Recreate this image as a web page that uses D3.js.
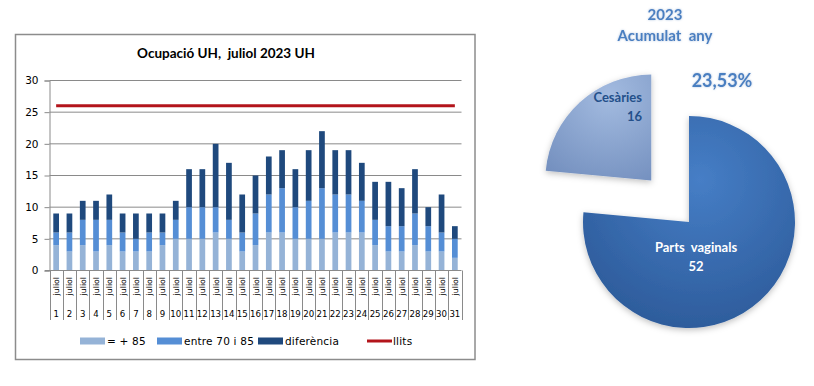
<!DOCTYPE html>
<html>
<head>
<meta charset="utf-8">
<script src="https://cdn.jsdelivr.net/npm/d3@7"></script>
<style>
  body { margin: 0; background: #fff; }
  svg { display: block; }
</style>
</head>
<body>
<div id="chart"></div>
<script>
// data
var days = ["1","2","3","4","5","6","7","8","9","10","11","12","13","14","15","16",
            "17","18","19","20","21","22","23","24","25","26","27","28","29","30","31"];
var over85  = [4,3,4,3,4,3,3,3,4,5,5,5,6,5,3,4,6,6,5,5,5,6,6,6,4,3,3,4,3,3,2];
var between = [2,3,4,5,4,3,2,3,2,3,5,5,4,3,3,5,6,7,5,6,8,6,6,5,4,4,4,5,4,3,3];
var diffs   = [3,3,3,3,4,3,4,3,3,3,6,6,10,9,6,6,6,6,6,8,9,7,7,6,6,7,6,7,3,6,2];
var llits   = [26,26,26,26,26,26,26,26,26,26,26,26,26,26,26,26,26,26,26,26,26,26,26,26,26,26,26,26,26,26,26];
var yTicks  = [0,5,10,15,20,25,30];
var seriesNames = ["= + 85", "entre 70 i 85", "diferència", "llits"];

var pieLabels = ["Parts\u00a0 vaginals", "Cesàries"];
var pieValues = [52, 16];

var colors = ["#95b3d7", "#558ed5", "#1f497d"];
var red = "#b3141b";

var svg = d3.select("#chart").append("svg")
    .attr("width", 814)
    .attr("height", 386);

// frame of the bar chart
svg.append("rect")
    .attr("x", 15.5).attr("y", 34.5)
    .attr("width", 459.5).attr("height", 325)
    .attr("fill", "#fff")
    .attr("stroke", "#8c8c8c")
    .attr("stroke-width", 1.5);

svg.append("text")
    .attr("x", 226).attr("y", 58)
    .attr("text-anchor", "middle")
    .style("font-family", "Lato, sans-serif")
    .style("font-weight", "bold")
    .style("font-size", "13.5px")
    .text("Ocupació UH,\u00a0 juliol 2023 UH");

// scales
var x = d3.scaleBand().domain(days).range([49.5, 461.5])
    .paddingInner(0.57).paddingOuter(0.285);
var y = d3.scaleLinear().domain([0, 30]).range([270.5, 80.5]);

// gridlines
svg.append("g")
    .selectAll("line")
    .data(yTicks.slice(1))
  .enter().append("line")
    .attr("x1", 49.5).attr("x2", 461.5)
    .attr("y1", function(d) { return y(d); })
    .attr("y2", function(d) { return y(d); })
    .attr("stroke", "#8a8a8a");

// y axis
var yAxis = svg.append("g")
    .attr("transform", "translate(49.5,0)")
    .call(d3.axisLeft(y).tickValues(yTicks).tickSize(5).tickPadding(6));
yAxis.select(".domain").attr("stroke", "#8a8a8a");
yAxis.selectAll(".tick line").attr("stroke", "#8a8a8a");
yAxis.selectAll("text")
    .attr("fill", "#000")
    .style("font-family", "'DejaVu Sans', sans-serif")
    .style("font-size", "10.5px");

// stacked bars
var rows = days.map(function(d, i) {
  return {day: d, a: over85[i], b: between[i], c: diffs[i]};
});
var stack = d3.stack().keys(["a", "b", "c"]);

svg.append("g")
    .selectAll("g")
    .data(stack(rows))
  .enter().append("g")
    .attr("fill", function(d, i) { return colors[i]; })
  .selectAll("rect")
    .data(function(d) { return d; })
  .enter().append("rect")
    .attr("x", function(d) { return x(d.data.day); })
    .attr("y", function(d) { return y(d[1]); })
    .attr("height", function(d) { return y(d[0]) - y(d[1]); })
    .attr("width", x.bandwidth());

// llits line
var line = d3.line()
    .x(function(d, i) { return x(days[i]) + x.bandwidth() / 2; })
    .y(function(d) { return y(d); });

svg.append("path")
    .datum(llits)
    .attr("d", line)
    .attr("fill", "none")
    .attr("stroke", red)
    .attr("stroke-width", 3);

// x axis with two label levels
var step = x.step();
var x0 = x.range()[0];
svg.append("line")
    .attr("x1", 45).attr("x2", 461.5)
    .attr("y1", 270.5).attr("y2", 270.5)
    .attr("stroke", "#8a8a8a");

svg.append("g")
    .selectAll("line")
    .data(d3.range(days.length + 1))
  .enter().append("line")
    .attr("x1", function(i) { return Math.round(x0 + i * step) + 0.5; })
    .attr("x2", function(i) { return Math.round(x0 + i * step) + 0.5; })
    .attr("y1", 270.5).attr("y2", 320)
    .attr("stroke", "#8a8a8a");

var lab = svg.append("g");
lab.selectAll(".month")
    .data(days)
  .enter().append("text")
    .attr("transform", function(d) {
      return "translate(" + (x(d) + x.bandwidth() / 2 + 3) + ",277) rotate(-90)";
    })
    .attr("text-anchor", "end")
    .style("font-family", "'DejaVu Sans', sans-serif")
    .style("font-size", "7.8px")
    .text("juliol");

lab.selectAll(".day")
    .data(days)
  .enter().append("text")
    .attr("x", function(d) { return x(d) + x.bandwidth() / 2; })
    .attr("y", 316.5)
    .attr("text-anchor", "middle")
    .style("font-family", "'DejaVu Sans', sans-serif")
    .style("font-size", "8.6px")
    .text(function(d) { return d; });

// legend
var legX = [80, 157, 258, 367];
var leg = svg.append("g").selectAll("g")
    .data(seriesNames)
  .enter().append("g")
    .attr("transform", function(d, i) { return "translate(" + legX[i] + ",341)"; });

leg.filter(function(d, i) { return i < 3; })
  .append("rect")
    .attr("x", 0).attr("y", -3.5)
    .attr("width", 25).attr("height", 7)
    .attr("fill", function(d, i) { return colors[i]; });

leg.filter(function(d, i) { return i == 3; })
  .append("line")
    .attr("x1", 0).attr("x2", 25)
    .attr("stroke", red)
    .attr("stroke-width", 3);

leg.append("text")
    .attr("x", function(d, i) { return i == 3 ? 26 : 27; })
    .attr("y", 4)
    .style("font-family", "'DejaVu Sans', sans-serif")
    .style("font-size", "10.5px")
    .style("letter-spacing", "0.2px")
    .text(function(d) { return d; });

// ---- pie ----
var defs = svg.append("defs");
var g1 = defs.append("radialGradient").attr("id", "gBig")
    .attr("cx", "55%").attr("cy", "30%").attr("r", "75%");
g1.append("stop").attr("offset", "0%").attr("stop-color", "#467ec6");
g1.append("stop").attr("offset", "100%").attr("stop-color", "#2c5a99");
var g2 = defs.append("radialGradient").attr("id", "gSmall")
    .attr("cx", "60%").attr("cy", "20%").attr("r", "90%");
g2.append("stop").attr("offset", "0%").attr("stop-color", "#a3bbe0");
g2.append("stop").attr("offset", "100%").attr("stop-color", "#7490bf");
var sh = defs.append("filter").attr("id", "shadow")
    .attr("x", "-20%").attr("y", "-20%").attr("width", "140%").attr("height", "140%");
sh.append("feDropShadow").attr("dx", 0).attr("dy", 2)
    .attr("stdDeviation", 3).attr("flood-color", "#000").attr("flood-opacity", 0.25);
var glow = defs.append("filter").attr("id", "glow")
    .attr("x", "-10%").attr("y", "-30%").attr("width", "120%").attr("height", "160%");
glow.append("feDropShadow").attr("dx", 0).attr("dy", 0)
    .attr("stdDeviation", 1.2).attr("flood-color", "#9fb8d8").attr("flood-opacity", 0.8);

var pie = d3.pie().sort(null).startAngle(0).endAngle(2 * Math.PI);
var arcs = pie(pieValues);
var radius = 106;
var arc = d3.arc().innerRadius(0).outerRadius(radius);
var cx = 689, cy = 222;
var explode = [0, 56];

var pg = svg.append("g").attr("transform", "translate(" + cx + "," + cy + ")");
pg.selectAll("path")
    .data(arcs)
  .enter().append("path")
    .attr("transform", function(d, i) {
      var a = (d.startAngle + d.endAngle) / 2;
      return "translate(" + (Math.sin(a) * explode[i]) + "," + (-Math.cos(a) * explode[i]) + ")";
    })
    .attr("d", arc)
    .attr("fill", function(d, i) { return i == 0 ? "url(#gBig)" : "url(#gSmall)"; })
    .attr("filter", "url(#shadow)");

// slice labels
var pieFont = "Lato, sans-serif";
svg.append("text")
    .attr("x", 642).attr("y", 102)
    .attr("text-anchor", "end")
    .attr("fill", "#24508a")
    .style("font-family", pieFont).style("font-weight", "bold").style("font-size", "13px")
    .text(pieLabels[1]);
svg.append("text")
    .attr("x", 642).attr("y", 121)
    .attr("text-anchor", "end")
    .attr("fill", "#24508a")
    .style("font-family", pieFont).style("font-weight", "bold").style("font-size", "13px")
    .text(pieValues[1]);
svg.append("text")
    .attr("x", 696).attr("y", 252)
    .attr("text-anchor", "middle")
    .attr("fill", "#fff")
    .style("font-family", pieFont).style("font-weight", "bold").style("font-size", "13px")
    .text(pieLabels[0]);
svg.append("text")
    .attr("x", 696).attr("y", 271)
    .attr("text-anchor", "middle")
    .attr("fill", "#fff")
    .style("font-family", pieFont).style("font-weight", "bold").style("font-size", "13px")
    .text(pieValues[0]);

// pie titles
var t = svg.append("g").attr("filter", "url(#glow)")
    .attr("fill", "#4a7fc1")
    .style("font-family", pieFont).style("font-weight", "bold");
t.append("text").attr("x", 665).attr("y", 20).attr("text-anchor", "middle")
    .style("font-size", "15px").text("2023");
t.append("text").attr("x", 665).attr("y", 41).attr("text-anchor", "middle")
    .style("font-size", "15px").text("Acumulat\u00a0 any");
t.append("text").attr("x", 722).attr("y", 87).attr("text-anchor", "middle")
    .style("font-size", "18px")
    .text(d3.format(".2f")(pieValues[1] / d3.sum(pieValues) * 100).replace(".", ",") + "%");
</script>
</body>
</html>
